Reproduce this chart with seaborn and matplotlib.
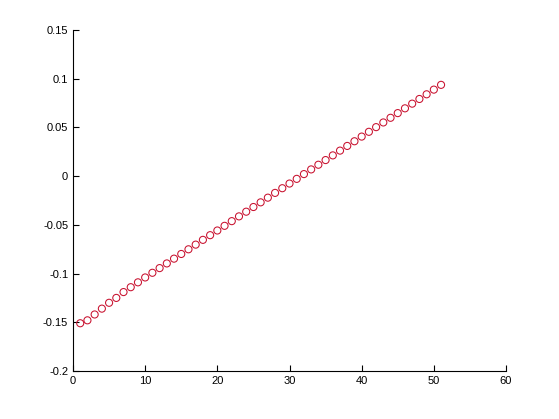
import numpy as np
import pandas as pd
import matplotlib
matplotlib.use("Agg")
import matplotlib.pyplot as plt
import seaborn as sns
from matplotlib.ticker import FuncFormatter

### data ###
x_vals = list(range(1, 52))
y_vals = [
    -0.151, -0.148, -0.142, -0.136, -0.130, -0.125, -0.119, -0.114, -0.109,
    -0.104, -0.0992, -0.0944, -0.0896, -0.0847, -0.0799, -0.0751, -0.0703,
    -0.0654, -0.0606, -0.0558, -0.0510, -0.0462, -0.0413, -0.0365, -0.0317,
    -0.0269, -0.0221, -0.0172, -0.0124, -0.0076, -0.0028, 0.0021, 0.0069,
    0.0117, 0.0165, 0.0213, 0.0262, 0.0310, 0.0358, 0.0406, 0.0455, 0.0503,
    0.0551, 0.0599, 0.0647, 0.0696, 0.0744, 0.0792, 0.0840, 0.0888, 0.0937,
]
x_ticks = [0, 10, 20, 30, 40, 50, 60]
y_ticks = [-0.2, -0.15, -0.1, -0.05, 0, 0.05, 0.1, 0.15]

df = pd.DataFrame({"x": x_vals, "y": y_vals})

sns.set_style("ticks")
plt.rcParams["font.family"] = ["Liberation Sans", "DejaVu Sans"]
plt.rcParams["axes.unicode_minus"] = False

fig = plt.figure(figsize=(5.59, 4.19), dpi=100)
ax = fig.add_axes([0.1306, 0.1146, 0.7746, 0.8138])

sns.scatterplot(
    data=df, x="x", y="y", ax=ax,
    marker="o", s=26, facecolors="none",
    edgecolor="#c8102e", linewidth=0.75,
)

ax.set_xlim(0, 60)
ax.set_ylim(-0.2, 0.15)
ax.set_xticks(x_ticks)
ax.set_yticks(y_ticks)
ax.yaxis.set_major_formatter(FuncFormatter(lambda v, p: f"{v:g}"))
ax.set_xlabel("")
ax.set_ylabel("")
ax.tick_params(direction="in", length=4, width=0.8, labelsize=8, colors="black")
for side in ["top", "right"]:
    ax.spines[side].set_visible(False)
for side in ["left", "bottom"]:
    ax.spines[side].set_linewidth(0.8)
    ax.spines[side].set_color("black")

fig.savefig("out.png", dpi=100)
